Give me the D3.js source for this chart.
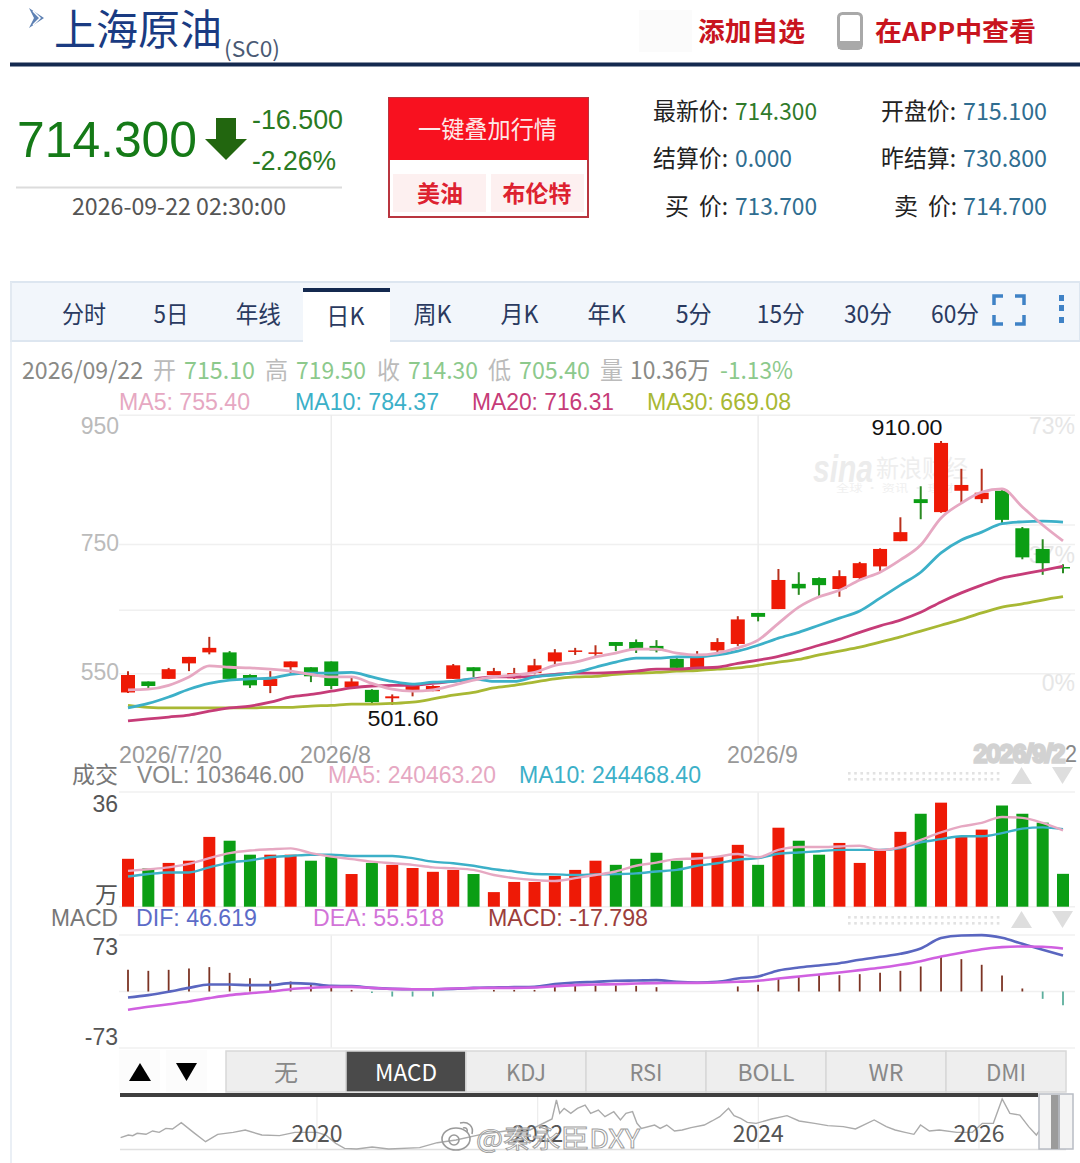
<!DOCTYPE html>
<html>
<head>
<meta charset="utf-8">
<title>上海原油 SC0</title>
<script src="https://cdn.jsdelivr.net/npm/d3@7"></script>
<style>
  html, body { margin: 0; padding: 0; background: #fff; }
  svg { display: block; }
  text { font-family: "Liberation Sans", "Noto Sans CJK SC", sans-serif; }
  .cjk { font-family: "Noto Sans CJK SC", "Liberation Sans", sans-serif; }
</style>
</head>
<body>
<div id="chart"></div>
<script>
// data
const dates = ['7/20','7/21','7/22','7/23','7/24','7/27','7/28','7/29','7/30','7/31',
  '8/3','8/4','8/5','8/6','8/7','8/10','8/11','8/12','8/13','8/14','8/17','8/18','8/19','8/20','8/21',
  '8/24','8/25','8/26','8/27','8/28','8/31','9/1','9/2','9/3','9/4','9/7','9/8','9/9','9/10','9/11',
  '9/14','9/15','9/16','9/17','9/18','9/21','9/22'];
const kOpen = [521,538,542,566,583,583,548,531,560,560,569,529,525,512,523,523,542,560,548,543,551,569,585,582,599,599,593,573,560,586,596,644,650,689,698,681,698,716,755,820,800,833,820,833,775,743,715.1];
const kClose = [548,531,557,576,590,542,532,542,569,546,531,538,506,515,532,531,563,554,554,551,563,583,586,583,593,588,586,559,576,599,634,638,695,682,687,701,721,743,769,814,907,842,830,788,730,721,714.3];
const kHigh = [554,538,559,576,607,585,549,554,569,560,569,545,526,518,532,532,565,560,559,559,573,588,590,594,599,603,602,574,585,605,639,644,712,707,699,710,723,744,792,840,910,867,867,834,777,758,719.5];
const kLow = [520,526,542,554,580,540,528,520,551,537,526,529,504,501.6,515,523,542,545,548,542,549,565,579,576,585,582,583,557,559,582,593,631,650,672,669,669,695,709,755,789,799,814,814,782,727,703,705.4];
const ma5 = [525,526,532,545,562,560,559,557,554,549,545,545,535,526,523,525,532,540,545,548,552,563,568,576,582,588,588,582,579,582,590,602,628,653,669,679,695,707,726,749,791,814,831,836,808,780,755.4];
const ma10 = [497,504,514,526,535,540,542,543,549,551,551,552,545,538,534,537,538,542,538,538,545,548,552,560,568,574,574,576,576,579,585,594,605,614,625,636,647,667,687,707,737,757,769,782,785,786,784.37];
const ma20 = [477,480,483,486,492,497,500,506,514,518,523,528,531,532,532,535,538,542,545,545,546,549,551,551,552,554,557,557,559,560,566,571,577,585,594,603,614,624,633,645,661,675,687,698,704,710,716.31];
const ma30 = [501,498,497,497,497,497,497,498,498,500,501,503,503,504,506,511,517,521,528,532,537,542,545,546,549,551,552,554,555,557,559,563,568,572,579,585,591,599,607,616,625,634,644,653,658,664,669.08];

const vol = [15.1,12.1,13.8,14.5,22.0,20.8,16.4,16.4,16.4,14.5,15.7,10.3,13.8,13.2,12.2,11.0,11.6,10.3,4.6,7.8,7.8,9.7,
  11.6,14.5,13.2,15.1,17.0,14.5,17.0,15.7,19.5,13.2,24.9,20.8,16.4,20.1,13.8,17.6,23.6,29.3,32.8,22.0,24.3,31.9,29.3,26.5,10.36];
const volMa5 = [11.3,11.8,12.4,13.5,15.3,16.9,17.7,18.1,18.4,16.9,15.8,15.0,14.2,13.7,13.2,12.4,12.1,11.6,10.0,9.0,8.4,8.1,
  9.0,10.0,11.1,12.9,13.9,15.0,15.2,15.8,16.6,15.6,17.9,18.8,18.8,19.0,19.2,17.9,18.8,21.1,23.4,25.3,26.4,28.3,28.0,26.4,24.05];
const volMa10 = [9.5,10.3,10.8,10.8,12.4,13.9,14.6,15.6,16.0,16.4,16.4,16.0,16.0,16.0,15.3,14.2,13.7,12.9,11.8,11.1,10.3,10.2,
  10.0,10.2,10.3,10.5,11.1,11.6,12.9,13.7,14.8,15.3,16.7,17.1,17.5,17.9,17.9,17.9,18.5,20.3,21.3,22.2,22.2,23.2,24.6,25.0,24.45];

const macd = [28,26.7,28,29.7,31.5,24.1,17.2,13.8,12.9,8.6,5.2,2,-2,-6.5,-6.5,-6.5,0,0,2,2,2,6,
  7.3,7.8,7.8,7.3,5.6,0,0,0,6.5,8.6,16.8,19.4,21.1,21.1,22.4,24.1,26.7,32.3,45.3,41.8,34.5,20.7,3.9,-9.5,-17.8];
const dif = [-7.8,-4.7,-0.4,4.7,9,9,8.2,8.2,10.8,9.9,7.3,6.9,4.7,3.4,3,3,3.4,4.7,5.2,5.6,6,9.5,
  11.6,12.5,13.8,14.2,14.7,12.5,11.6,12.5,16.8,19.4,27.2,31,33.6,36.6,41,44.8,48.7,55.6,69,72.4,72.8,69.4,61.6,53.9,46.6];
const dea = [-23.7,-19.8,-16.4,-12.9,-8.6,-4.7,-2.2,0,3,4.7,6,6,4.7,3.4,3,3,3.9,4.3,4.7,4.7,5.2,6.9,
  8.2,9,9.5,10.3,10.8,11.2,11.2,11.6,12.5,13.8,16.8,19.4,22,24.6,27.6,30.6,34.5,39.2,45.3,50,54.7,57.3,58.2,57.8,55.5];

const overviewYear = [2018.22,2018.29,2018.33,2018.37,2018.45,2018.51,2018.57,2018.63,2018.69,2018.77,2018.88,2018.99,2019.10,2019.24,2019.35,2019.50,2019.66,2019.80,2020,2020.08,2020.17,2020.25,2020.36,2020.50,2020.65,2020.93,2021.09,2021.26,2021.49,2021.71,2021.93,
  2022.13,2022.17,2022.20,2022.24,2022.30,2022.36,2022.43,2022.48,2022.55,2022.61,2022.69,2022.75,2022.80,2022.86,2022.90,2022.94,
  2023.06,2023.11,2023.17,2023.24,2023.31,2023.39,2023.51,2023.58,2023.65,2023.73,2023.78,2023.84,2023.90,2023.98,2024.12,2024.26,2024.37,2024.51,2024.63,2024.77,2024.88,2025.05,2025.16,2025.24,2025.33,2025.41,2025.47,2025.55,2025.64,2025.80,2025.94,2026.03,2026.13,2026.21,2026.28,2026.37,2026.45,2026.52,2026.56];
const overviewPrice = [365,402,393,426,412,459,440,496,487,576,440,308,412,440,473,402,393,440,440,402,285,214,205,233,205,224,294,332,412,459,473,
  628,896,708,778,708,778,825,708,755,661,731,614,708,731,567,496,
  543,496,543,459,473,506,543,600,661,778,675,637,581,567,628,675,600,567,534,520,487,614,520,473,440,412,543,459,473,440,440,567,567,910,708,684,520,402,496];

const tabs = ['分时','5日','年线','日K','周K','月K','年K','5分','15分','30分','60分'];
const tabWidths = [44,35,45,38,38,38,38,36,48,48,48];
const indicators = ['无','MACD','KDJ','RSI','BOLL','WR','DMI'];
const priceTicks = [950,750,550];
const priceGrid = [950,750,648,550];
const percentTicks = ['73%','37%','0%'];
const overviewTicks = [2020,2022,2024,2026];
const monthStarts = ['8/3','9/1'];

// colours
const RED = '#ee1a06', GREEN = '#0b9e14', RED_WICK = '#b8301c', GREEN_WICK = '#2a8a22';
const PINK = '#e6a8c2', TEAL = '#3cb0c8', MAGENTA = '#c63c78', OLIVE = '#a8b834';
const GRID = '#f0f0f0', VLINE = '#ececec';

const svg = d3.select('#chart').append('svg').attr('width', 1080).attr('height', 1163);

function label(x, y, s, o = {}) {
  // the CJK face sits a little low on its central baseline
  const t = svg.append('text')
    .attr('x', x).attr('y', o.cjk ? y - 2.5 : y)
    .attr('dominant-baseline', 'central')
    .attr('font-size', o.size || 23)
    .attr('fill', o.fill || '#888')
    .attr('text-anchor', o.anchor || 'start')
    .attr('font-weight', o.weight || null)
    .attr('class', o.cjk ? 'cjk' : null)
    .text(s);
  if (o.w) t.attr('textLength', o.w).attr('lengthAdjust', 'spacingAndGlyphs');
  return t;
}

// header
svg.append('path').attr('d', 'M29,8l15,10l-15,10l5,-10z').attr('fill', '#5f82b4');
svg.append('path').attr('d', 'M33,11l7,7l-7,7').attr('fill', 'none').attr('stroke', '#fff').attr('stroke-width', 1.5);
label(54, 29, '上海原油', { size: 42, fill: '#1a3b82', cjk: true, w: 168 });
label(224, 49, '(SC0)', { size: 22, fill: '#4a5a74', cjk: true, w: 56 });
svg.append('rect').attr('x', 10).attr('y', 62.5).attr('width', 1070).attr('height', 4).attr('fill', '#14294f');
svg.append('rect').attr('x', 639).attr('y', 10).attr('width', 53).attr('height', 42).attr('fill', '#fbfbfb');
label(698, 32, '添加自选', { size: 26, fill: '#c8141e', weight: 700, cjk: true, w: 107 });
svg.append('rect').attr('x', 838.5).attr('y', 13.5).attr('width', 23).attr('height', 35).attr('rx', 4)
  .attr('fill', '#fff').attr('stroke', '#a9a9a9').attr('stroke-width', 3);
svg.append('rect').attr('x', 838).attr('y', 41).attr('width', 24).attr('height', 8).attr('fill', '#a9a9a9');
label(875, 32, '在APP中查看', { size: 26, fill: '#c8141e', weight: 700, cjk: true, w: 161 });

// quote block
label(17, 140, '714.300', { size: 50, fill: '#157a17', w: 180 });
svg.append('path').attr('d', 'M216,118h20v21h11l-21,21l-21,-21h11z').attr('fill', '#22660f');
label(252, 120, '-16.500', { size: 27, fill: '#2a7a22', w: 91 });
label(252, 161, '-2.26%', { size: 27, fill: '#2a7a22', w: 84 });
svg.append('line').attr('x1', 16).attr('x2', 342).attr('y1', 187.5).attr('y2', 187.5).attr('stroke', '#dcdcdc').attr('stroke-width', 2);
label(72, 207, '2026-09-22 02:30:00', { size: 23, fill: '#555', cjk: true, w: 214 });

svg.append('rect').attr('x', 389).attr('y', 98).attr('width', 199).attr('height', 119).attr('fill', '#fff').attr('stroke', '#b9353f').attr('stroke-width', 2);
svg.append('rect').attr('x', 389).attr('y', 98).attr('width', 199).attr('height', 62).attr('fill', '#f8111f');
label(418, 130, '一键叠加行情', { size: 24, fill: '#fde8e8', cjk: true, w: 139 });
svg.append('rect').attr('x', 393).attr('y', 174).attr('width', 93).attr('height', 38).attr('fill', '#fdf0f0');
svg.append('rect').attr('x', 491).attr('y', 174).attr('width', 93).attr('height', 38).attr('fill', '#fdf0f0');
label(440, 194, '美油', { size: 23, fill: '#dd2230', weight: 700, cjk: true, anchor: 'middle' });
label(537, 194, '布伦特', { size: 23, fill: '#dd2230', weight: 700, cjk: true, anchor: 'middle' });

const BLUE_V = '#2f6d90', LABEL_C = '#222';
[['最新价:', '714.300', '#2f7a2a', 112, 653, 735, 82], ['结算价:', '0.000', BLUE_V, 159, 653, 735, 57],
 ['开盘价:', '715.100', BLUE_V, 112, 881, 963, 84], ['昨结算:', '730.800', BLUE_V, 159, 881, 963, 84]].forEach(r => {
  label(r[4], r[3], r[0], { size: 24, fill: LABEL_C, cjk: true, w: 75 });
  label(r[5], r[3], r[1], { size: 24, fill: r[2], cjk: true, w: r[6] });
});
label(665, 207, '买', { size: 24, fill: LABEL_C, cjk: true });
label(699, 207, '价:', { size: 24, fill: LABEL_C, cjk: true, w: 29 });
label(735, 207, '713.700', { size: 24, fill: BLUE_V, cjk: true, w: 82 });
label(894, 207, '卖', { size: 24, fill: LABEL_C, cjk: true });
label(928, 207, '价:', { size: 24, fill: LABEL_C, cjk: true, w: 29 });
label(963, 207, '714.700', { size: 24, fill: BLUE_V, cjk: true, w: 84 });

// tab bar
svg.append('rect').attr('x', 11).attr('y', 282).attr('width', 1069).attr('height', 59).attr('fill', '#f2f6fb').attr('stroke', '#dde6f0').attr('stroke-width', 2);
svg.append('line').attr('x1', 11).attr('x2', 11).attr('y1', 282).attr('y2', 1163).attr('stroke', '#e3eaf2').attr('stroke-width', 1.5);
svg.append('rect').attr('x', 303).attr('y', 288).attr('width', 87).attr('height', 56).attr('fill', '#fff');
svg.append('rect').attr('x', 303).attr('y', 288).attr('width', 87).attr('height', 4).attr('fill', '#14294f');
const xTab = d3.scalePoint().domain(tabs).range([84, 955]);
tabs.forEach((t, i) => {
  label(xTab(t), t === '日K' ? 317 : 315, t, { size: 24, fill: '#2a3a60', cjk: true, anchor: 'middle', w: tabWidths[i] });
});
svg.append('path').attr('d', 'M994,305v-9h9M1015,296h9v9M994,315v9h9M1015,324h9v-9')
  .attr('fill', 'none').attr('stroke', '#3f82c6').attr('stroke-width', 3.5);
[298, 308, 320].forEach(y => svg.append('rect').attr('x', 1059).attr('y', y - 3).attr('width', 5).attr('height', 6).attr('fill', '#3f82c6'));

// info rows
const GR_T = '#8cc98c';
[['2026/09/22', 22, 121, '#8a8a86'], ['开', 153, 23, '#bbb'], ['715.10', 184, 71, GR_T], ['高', 265, 23, '#bbb'], ['719.50', 296, 70, GR_T],
 ['收', 377, 23, '#bbb'], ['714.30', 408, 70, GR_T], ['低', 488, 23, '#bbb'], ['705.40', 519, 71, GR_T], ['量', 600, 23, '#bbb'],
 ['10.36万', 630, 80, '#8a8a86'], ['-1.13%', 720, 73, GR_T]].forEach(r => {
  label(r[1], 371, r[0], { size: 24, fill: r[3], cjk: true, w: r[2] });
});
[['MA5: 755.40', 119, 131, PINK], ['MA10: 784.37', 295, 144, TEAL], ['MA20: 716.31', 472, 142, MAGENTA], ['MA30: 669.08', 647, 144, OLIVE]].forEach(r => {
  label(r[1], 401, r[0], { size: 24, fill: r[3], w: r[2] });
});

// scales
const x = d3.scalePoint().domain(dates).range([128, 1063]);
const yPrice = d3.scaleLinear().domain([501.6, 910]).range([705, 441]);
const yVol = d3.scaleLinear().domain([0, 36]).range([906.7, 792.5]);
const yMacd = d3.scaleLinear().domain([-73, 73]).range([1048, 935]);
const CANDLE_W = 14, VOL_W = 12;

// sina watermark
label(813, 469, 'sina', { size: 38, fill: '#ececec', weight: 700, w: 60 }).attr('font-style', 'italic');
label(876, 469, '新浪财经', { size: 24, fill: '#eeeeee', cjk: true, w: 92 });
label(836, 490, '全球 · 资讯 · 理财', { size: 10, fill: '#f0f0f0', cjk: true, w: 118 });

// gridlines
svg.append('g').selectAll('line').data(priceGrid).join('line')
  .attr('x1', 119).attr('x2', 1075)
  .attr('y1', d => yPrice(d)).attr('y2', d => yPrice(d))
  .attr('stroke', GRID).attr('stroke-width', 1.5);
svg.append('line').attr('x1', 1006).attr('x2', 1075).attr('y1', 525).attr('y2', 525).attr('stroke', GRID).attr('stroke-width', 1.5);
[[415, 745], [792, 906], [935, 1048]].forEach(r => {
  svg.append('g').selectAll('line').data(monthStarts).join('line')
    .attr('x1', d => x(d)).attr('x2', d => x(d))
    .attr('y1', r[0]).attr('y2', r[1])
    .attr('stroke', VLINE).attr('stroke-width', 1.5);
});

// price axis
const priceAxis = svg.append('g').attr('transform', 'translate(119,0)')
  .call(d3.axisLeft(yPrice).tickValues(priceTicks).tickSize(0).tickPadding(0));
priceAxis.select('.domain').remove();
priceAxis.selectAll('text').attr('font-size', 23).attr('fill', '#bbbbbb')
  .attr('font-family', '"Liberation Sans"')
  .attr('dy', d => d === 950 ? 18 : 6);
percentTicks.forEach((p, i) => {
  label(1075, [426, 555, 683][i], p, { size: 23, fill: '#e6e6e6', anchor: 'end' });
});

// candles
const candles = svg.append('g').selectAll('g').data(dates).join('g');
candles.append('line')
  .attr('x1', d => x(d)).attr('x2', d => x(d))
  .attr('y1', (d, i) => yPrice(kHigh[i])).attr('y2', (d, i) => yPrice(kLow[i]))
  .attr('stroke', (d, i) => kClose[i] >= kOpen[i] ? RED_WICK : GREEN_WICK)
  .attr('stroke-width', 2);
candles.append('rect')
  .attr('x', d => x(d) - CANDLE_W / 2).attr('width', CANDLE_W)
  .attr('y', (d, i) => yPrice(Math.max(kOpen[i], kClose[i])))
  .attr('height', (d, i) => Math.max(1.5, Math.abs(yPrice(kOpen[i]) - yPrice(kClose[i]))))
  .attr('fill', (d, i) => kClose[i] >= kOpen[i] ? RED : GREEN);

const priceLine = d3.line().x((d, i) => x(dates[i])).y(d => yPrice(d)).curve(d3.curveMonotoneX);
[[ma30, OLIVE], [ma20, MAGENTA], [ma10, TEAL], [ma5, PINK]].forEach(s => {
  svg.append('path').datum(s[0]).attr('d', priceLine).attr('fill', 'none').attr('stroke', s[1]).attr('stroke-width', 2.8);
});

label(403, 718, '501.60', { size: 22, fill: '#111', anchor: 'middle', w: 71 });
label(907, 427, '910.00', { size: 22, fill: '#111', anchor: 'middle', w: 71 });

// date labels
label(119, 755, '2026/7/20', { size: 23, fill: '#999', w: 103 });
label(300, 755, '2026/8', { size: 23, fill: '#999', w: 71 });
label(727, 755, '2026/9', { size: 23, fill: '#999', w: 71 });
// last date is smeared in the screenshot
const endDate = label(974, 754, '2026/9/2', { size: 23, fill: '#999', w: 91 })
  .attr('stroke', '#c4c4c4').attr('stroke-width', 3.5).attr('opacity', 0.75);
label(1065, 754, '2', { size: 23, fill: '#888', w: 12 });

// dotted drag strips and up / down arrows
function strip(y) {
  const g = svg.append('g');
  d3.range(848, 998, 6.2).forEach(px => {
    [y - 3, y + 3].forEach(py => {
      g.append('rect').attr('x', px).attr('y', py).attr('width', 2.6).attr('height', 2.6).attr('fill', '#e2e2e2');
    });
  });
  svg.append('path').attr('d', `M1011,${y + 9}l10.5,-17l10.5,17z`).attr('fill', '#dedede');
  svg.append('path').attr('d', `M1052,${y - 8}h21l-10.5,17z`).attr('fill', '#dedede');
}
strip(775);
strip(919);

// volume panel
label(118, 775, '成交', { size: 23, fill: '#777', cjk: true, anchor: 'end', w: 46 });
label(137, 775, 'VOL: 103646.00', { size: 23, fill: '#888', w: 167 });
label(328, 775, 'MA5: 240463.20', { size: 23, fill: PINK, w: 168 });
label(519, 775, 'MA10: 244468.40', { size: 23, fill: TEAL, w: 182 });
svg.append('line').attr('x1', 119).attr('x2', 1075).attr('y1', 792).attr('y2', 792).attr('stroke', GRID).attr('stroke-width', 1.5);
svg.append('line').attr('x1', 119).attr('x2', 1075).attr('y1', 906.7).attr('y2', 906.7).attr('stroke', GRID).attr('stroke-width', 1.5);
label(118, 804, '36', { size: 23, fill: '#555', anchor: 'end' });
label(118, 895, '万', { size: 23, fill: '#555', cjk: true, anchor: 'end' });

svg.append('g').selectAll('rect').data(dates).join('rect')
  .attr('x', d => x(d) - VOL_W / 2).attr('width', VOL_W)
  .attr('y', (d, i) => yVol(vol[i]))
  .attr('height', (d, i) => yVol(0) - yVol(vol[i]))
  .attr('fill', (d, i) => kClose[i] >= kOpen[i] ? RED : GREEN);

const volLine = d3.line().x((d, i) => x(dates[i])).y(d => yVol(d)).curve(d3.curveMonotoneX);
[[volMa10, TEAL], [volMa5, PINK]].forEach(s => {
  svg.append('path').datum(s[0]).attr('d', volLine).attr('fill', 'none').attr('stroke', s[1]).attr('stroke-width', 2.4);
});

// macd panel
label(118, 918, 'MACD', { size: 23, fill: '#777', anchor: 'end', w: 67 });
label(136, 918, 'DIF: 46.619', { size: 23, fill: '#5c6cc8', w: 121 });
label(313, 918, 'DEA: 55.518', { size: 23, fill: '#d274d8', w: 131 });
label(488, 918, 'MACD: -17.798', { size: 23, fill: '#9c3e3c', w: 160 });
[935, 991.5, 1048].forEach(v => {
  svg.append('line').attr('x1', 119).attr('x2', 1075).attr('y1', v).attr('y2', v).attr('stroke', GRID).attr('stroke-width', 1.5);
});
label(118, 947, '73', { size: 23, fill: '#555', anchor: 'end' });
label(118, 1037, '-73', { size: 23, fill: '#555', anchor: 'end' });

svg.append('g').selectAll('line').data(dates).join('line')
  .attr('x1', d => x(d)).attr('x2', d => x(d))
  .attr('y1', yMacd(0))
  .attr('y2', (d, i) => yMacd(macd[i]))
  .attr('stroke', (d, i) => macd[i] >= 0 ? '#7c3424' : '#5cae9c')
  .attr('stroke-width', 1.8);

const macdLine = d3.line().x((d, i) => x(dates[i])).y(d => yMacd(d)).curve(d3.curveMonotoneX);
svg.append('path').datum(dif).attr('d', macdLine).attr('fill', 'none').attr('stroke', '#5a66c0').attr('stroke-width', 2.6);
svg.append('path').datum(dea).attr('d', macdLine).attr('fill', 'none').attr('stroke', '#d060e0').attr('stroke-width', 2.6);

// indicator buttons
[119, 166].forEach((bx, i) => {
  svg.append('rect').attr('x', bx).attr('y', 1050).attr('width', 41).attr('height', 42).attr('fill', '#fcfcfc');
  svg.append('path')
    .attr('d', i === 0 ? `M${bx + 10},1081l11,-18l11,18z` : `M${bx + 10},1063h21l-10.5,18z`)
    .attr('fill', '#000');
});
const xBtn = d3.scaleBand().domain(indicators).range([226, 1066]);
svg.append('g').selectAll('rect').data(indicators).join('rect')
  .attr('x', d => xBtn(d)).attr('y', 1051).attr('width', xBtn.bandwidth()).attr('height', 41)
  .attr('fill', d => d === 'MACD' ? '#4a4a4a' : '#eeeeee')
  .attr('stroke', '#d8d8d8').attr('stroke-width', 1.5);
indicators.forEach(d => {
  label(xBtn(d) + xBtn.bandwidth() / 2, 1073, d, {
    size: 23, fill: d === 'MACD' ? '#fff' : '#888', anchor: 'middle', cjk: true,
    w: { '无': 24, MACD: 62, KDJ: 40, RSI: 33, BOLL: 57, WR: 35, DMI: 40 }[d]
  });
});

// overview
const xOv = d3.scaleLinear().domain([2020, 2026]).range([317, 979]);
const yOv = d3.scaleLinear().domain([205, 910]).range([1149, 1099]);
svg.append('rect').attr('x', 120).attr('y', 1093).attr('width', 918).attr('height', 4).attr('fill', '#3f3f3f');
svg.append('line').attr('x1', 120).attr('x2', 1066).attr('y1', 1149.5).attr('y2', 1149.5).attr('stroke', '#e0e0e0').attr('stroke-width', 1.5);
svg.append('g').selectAll('line').data(overviewTicks).join('line')
  .attr('x1', d => xOv(d)).attr('x2', d => xOv(d))
  .attr('y1', 1097).attr('y2', 1149)
  .attr('stroke', '#ececec').attr('stroke-width', 1.2);
svg.append('path').datum(overviewYear.map((yr, i) => [yr, overviewPrice[i]]))
  .attr('d', d3.line().x(d => xOv(d[0])).y(d => yOv(d[1])))
  .attr('fill', 'none').attr('stroke', '#ababab').attr('stroke-width', 1.4);
overviewTicks.forEach(t => {
  label(xOv(t), 1134, t, { size: 24, fill: '#555', anchor: 'middle', cjk: true, w: 51 });
});
svg.append('rect').attr('x', 1039).attr('y', 1094).attr('width', 34).attr('height', 55).attr('fill', '#f4f4f4').attr('stroke', '#b8bcc4').attr('stroke-width', 1.5);
svg.append('rect').attr('x', 1051).attr('y', 1095).attr('width', 9).attr('height', 54).attr('fill', '#9b9b9b');
svg.append('line').attr('x1', 1059).attr('x2', 1059).attr('y1', 1095).attr('y2', 1149).attr('stroke', '#b8bcc4').attr('stroke-width', 1.5);

// weibo watermark
const wb = svg.append('g').attr('fill', 'none').attr('stroke', '#9a9a9a').attr('stroke-width', 1.6);
wb.append('ellipse').attr('cx', 456).attr('cy', 1139).attr('rx', 14).attr('ry', 11);
wb.append('circle').attr('cx', 454).attr('cy', 1140).attr('r', 5);
wb.append('path').attr('d', 'M460,1123c8,-2 14,3 12,11M463,1128c3,-1 5,1 4,4');
label(476, 1139, '@秦永臣DXY', { size: 26, fill: 'rgba(255,255,255,.55)', cjk: true, w: 164 })
  .attr('stroke', '#9d9d9d').attr('stroke-width', 0.9);
</script>
</body>
</html>
